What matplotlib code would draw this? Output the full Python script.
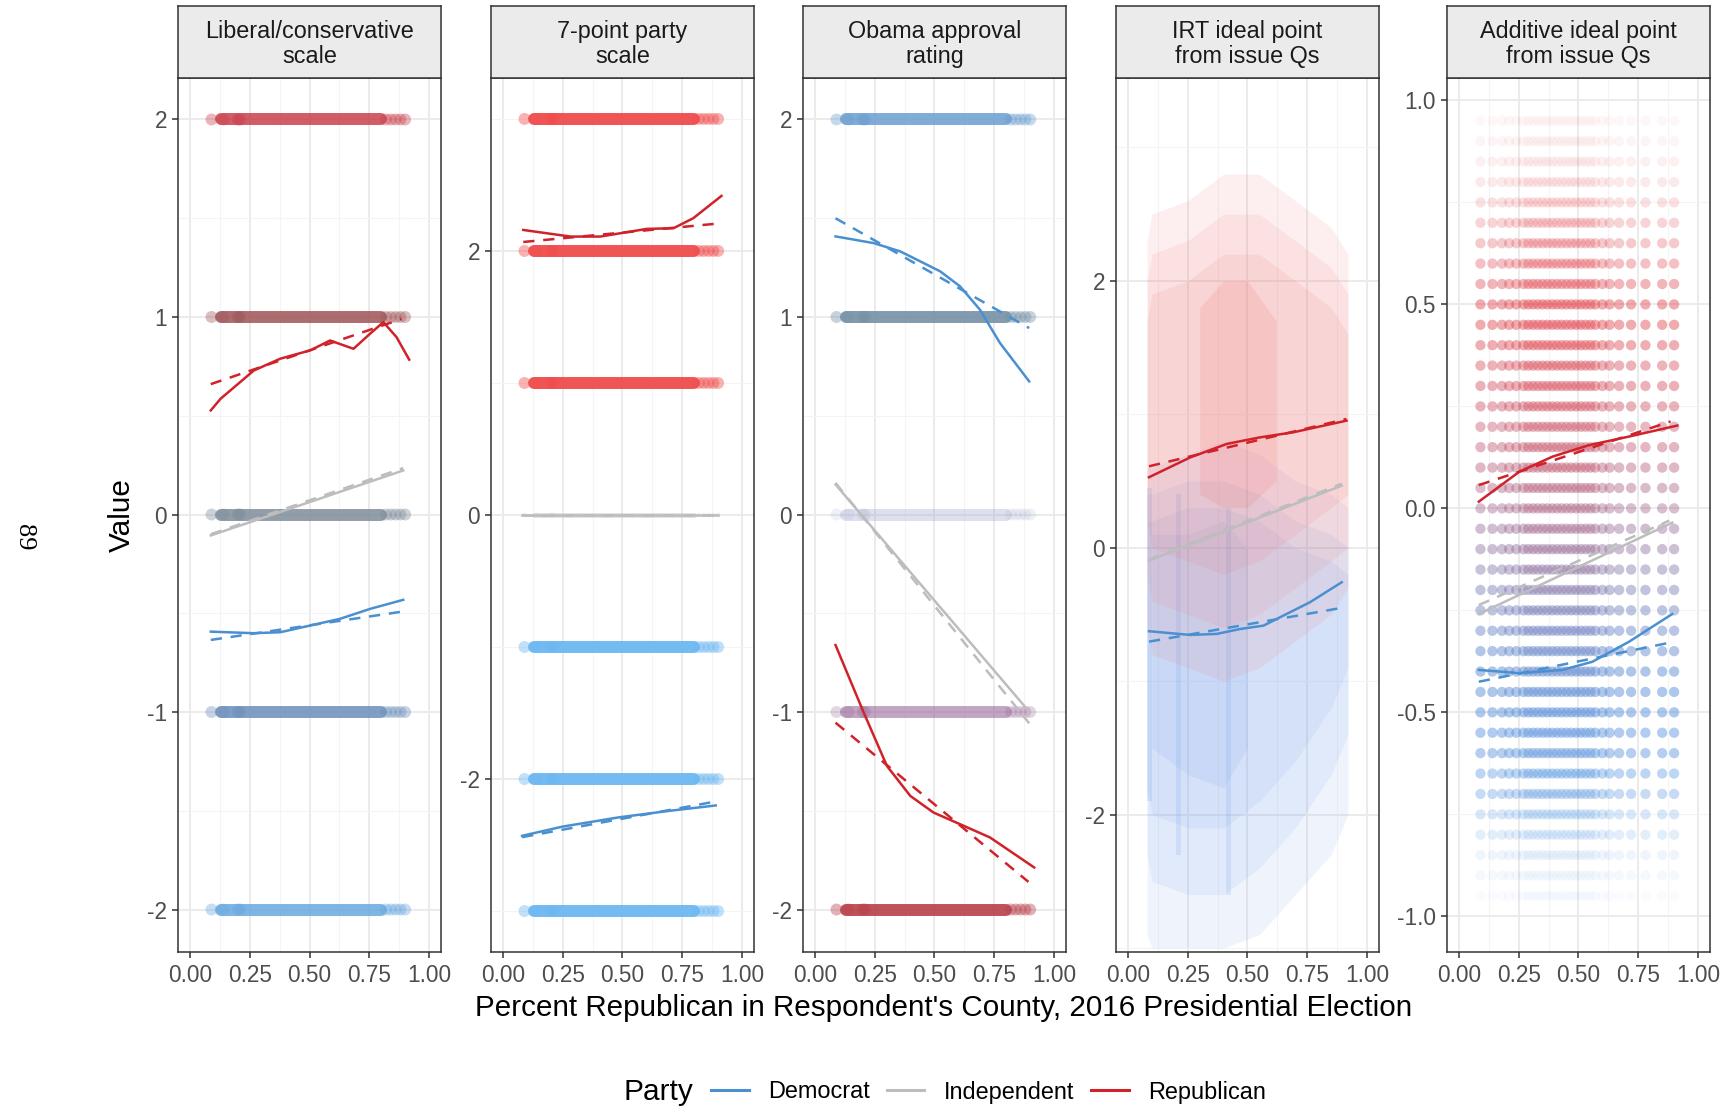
import matplotlib.pyplot as plt
from matplotlib.lines import Line2D

plt.rcParams['font.family'] = ['Liberation Sans', 'DejaVu Sans']
plt.rcParams['axes.unicode_minus'] = False

W, H = 1733, 1110

# ---- data -------------------------------------------------------------
party_names = ['Democrat', 'Independent', 'Republican']

panel_titles = ['Liberal/conservative\nscale', '7-point party\nscale',
                'Obama approval\nrating', 'IRT ideal point\nfrom issue Qs',
                'Additive ideal point\nfrom issue Qs']

# range of county Republican share covered by most respondents,
# plus the thinly populated counties at either end
band_span = [0.13, 0.80]
edge_x = [0.09, 0.14, 0.20, 0.21, 0.82, 0.84, 0.86, 0.88, 0.90]

libcon_levels = [2, 1, 0, -1, -2]
pid7_levels = [3, 2, 1, 0, -1, -2, -3]
pid7_party = ['Republican', 'Republican', 'Republican', 'Independent',
              'Democrat', 'Democrat', 'Democrat']
obama_levels = [2, 1, 0, -1, -2]

# additive ideal point: response levels and density of each party on them
add_x = [0.09, 0.14, 0.18, 0.21, 0.24, 0.27, 0.29, 0.31, 0.33, 0.35, 0.37,
         0.39, 0.41, 0.43, 0.45, 0.47, 0.49, 0.51, 0.53, 0.55, 0.57, 0.60,
         0.63, 0.67, 0.72, 0.78, 0.85, 0.90]
add_levels = [0.95, 0.90, 0.85, 0.80, 0.75, 0.70, 0.65, 0.60, 0.55, 0.50,
              0.45, 0.40, 0.35, 0.30, 0.25, 0.20, 0.15, 0.10, 0.05, 0.00,
              -0.05, -0.10, -0.15, -0.20, -0.25, -0.30, -0.35, -0.40, -0.45,
              -0.50, -0.55, -0.60, -0.65, -0.70, -0.75, -0.80, -0.85, -0.90,
              -0.95]
add_rep_density = [0.04, 0.05, 0.07, 0.10, 0.15, 0.20, 0.25, 0.30, 0.35, 0.40,
                   0.40, 0.38, 0.35, 0.35, 0.33, 0.30, 0.30, 0.28, 0.25, 0.22,
                   0.20, 0.18, 0.15, 0.13, 0.10, 0.08, 0.06, 0.05, 0.04, 0.03,
                   0.02, 0.02, 0.01, 0.01, 0.00, 0.00, 0.00, 0.00, 0.00]
add_dem_density = [0.00, 0.00, 0.00, 0.00, 0.00, 0.01, 0.02, 0.02, 0.03, 0.03,
                   0.04, 0.05, 0.07, 0.08, 0.10, 0.12, 0.14, 0.17, 0.20, 0.22,
                   0.25, 0.28, 0.30, 0.33, 0.36, 0.38, 0.40, 0.42, 0.42, 0.42,
                   0.40, 0.38, 0.33, 0.28, 0.20, 0.14, 0.08, 0.05, 0.03]

# IRT ideal point cloud: nested spread of each party by county share
irt_x = [0.08, 0.10, 0.25, 0.40, 0.55, 0.70, 0.85, 0.92]
irt_rep_lo = [[-0.6, -0.8, -0.9, -1.0, -0.9, -0.7, -0.5, -0.3],
              [-0.2, -0.4, -0.5, -0.6, -0.5, -0.3, -0.1, 0.0],
              [0.2, 0.0, -0.1, -0.2, -0.1, 0.1, 0.3, 0.4]]
irt_rep_hi = [[2.3, 2.5, 2.6, 2.8, 2.8, 2.6, 2.4, 2.2],
              [2.0, 2.2, 2.3, 2.5, 2.5, 2.3, 2.1, 1.9],
              [1.7, 1.9, 2.0, 2.2, 2.2, 2.0, 1.8, 1.6]]
irt_rep_core_x = [0.30, 0.40, 0.50, 0.62]
irt_rep_core_lo = [0.4, 0.3, 0.3, 0.5]
irt_rep_core_hi = [1.8, 2.0, 2.0, 1.7]
irt_dem_lo = [[-2.9, -3.0, -3.0, -3.0, -2.9, -2.6, -2.3, -2.0],
              [-2.3, -2.5, -2.6, -2.6, -2.4, -2.1, -1.7, -1.4],
              [-1.8, -2.0, -2.1, -2.1, -1.9, -1.6, -1.2, -0.9]]
irt_dem_hi = [[0.6, 0.6, 0.7, 0.8, 0.7, 0.5, 0.4, 0.3],
              [0.4, 0.4, 0.5, 0.5, 0.4, 0.2, 0.1, 0.0],
              [0.2, 0.2, 0.3, 0.3, 0.2, 0.0, -0.1, -0.2]]
irt_dem_core_x = [0.10, 0.25, 0.40, 0.50]
irt_dem_core_lo = [-1.5, -1.7, -1.8, -1.5]
irt_dem_core_hi = [0.1, 0.1, 0.2, 0.0]
# counties with many respondents (vertical streaks)
irt_streak_x = [0.09, 0.21, 0.42]
irt_streak_lo = [-1.9, -2.3, -2.6]
irt_streak_hi = [0.45, 0.4, 0.3]

# loess fits (solid) per panel and party
loess = [
    {'Democrat': ([0.087, 0.267, 0.378, 0.503, 0.628, 0.753, 0.892],
                  [-0.593, -0.601, -0.596, -0.562, -0.528, -0.478, -0.432]),
     'Independent': ([0.087, 0.892], [-0.106, 0.223]),
     'Republican': ([0.087, 0.128, 0.267, 0.378, 0.503, 0.586, 0.684, 0.753,
                     0.809, 0.864, 0.917],
                    [0.527, 0.586, 0.729, 0.789, 0.831, 0.881, 0.839, 0.915,
                     0.974, 0.898, 0.784])},
    {'Democrat': ([0.08, 0.25, 0.485, 0.70, 0.89],
                  [-2.43, -2.36, -2.29, -2.24, -2.20]),
     'Independent': ([0.08, 0.90], [0.0, 0.0]),
     'Republican': ([0.085, 0.282, 0.407, 0.601, 0.713, 0.796, 0.914],
                    [2.159, 2.109, 2.109, 2.167, 2.172, 2.248, 2.417])},
    {'Democrat': ([0.086, 0.246, 0.357, 0.524, 0.607, 0.69, 0.774, 0.896],
                  [1.408, 1.374, 1.332, 1.231, 1.155, 1.037, 0.868, 0.674]),
     'Independent': ([0.086, 0.896], [0.152, -0.998]),
     'Republican': ([0.086, 0.204, 0.301, 0.399, 0.496, 0.607, 0.732, 0.917],
                    [-0.661, -1.003, -1.273, -1.425, -1.509, -1.568, -1.635,
                     -1.787])},
    {'Democrat': ([0.088, 0.261, 0.372, 0.47, 0.567, 0.65, 0.761, 0.894],
                  [-0.626, -0.654, -0.646, -0.609, -0.584, -0.509, -0.409,
                   -0.259]),
     'Independent': ([0.088, 0.894], [-0.097, 0.465]),
     'Republican': ([0.088, 0.261, 0.414, 0.553, 0.692, 0.914],
                    [0.528, 0.677, 0.778, 0.827, 0.865, 0.952])},
    {'Democrat': ([0.083, 0.253, 0.433, 0.558, 0.711, 0.892],
                  [-0.396, -0.404, -0.396, -0.376, -0.327, -0.259]),
     'Independent': ([0.083, 0.892], [-0.259, -0.035]),
     'Republican': ([0.083, 0.253, 0.392, 0.544, 0.711, 0.913],
                    [0.0165, 0.09, 0.127, 0.155, 0.176, 0.203])},
]

# linear fits (dashed): endpoints per panel and party
linear = [
    {'Democrat': ([0.087, 0.892], [-0.635, -0.491]),
     'Independent': ([0.087, 0.892], [-0.10, 0.235]),
     'Republican': ([0.087, 0.885], [0.66, 0.99])},
    {'Democrat': ([0.08, 0.89], [-2.44, -2.17]),
     'Independent': ([0.08, 0.90], [0.0, 0.0]),
     'Republican': ([0.085, 0.914], [2.068, 2.21])},
    {'Democrat': ([0.086, 0.896], [1.50, 0.944]),
     'Independent': ([0.086, 0.896], [0.16, -1.057]),
     'Republican': ([0.086, 0.893], [-1.054, -1.86])},
    {'Democrat': ([0.088, 0.894], [-0.704, -0.451]),
     'Independent': ([0.088, 0.894], [-0.09, 0.48]),
     'Republican': ([0.088, 0.914], [0.61, 0.965])},
    {'Democrat': ([0.083, 0.892], [-0.425, -0.328]),
     'Independent': ([0.083, 0.88], [-0.237, -0.03]),
     'Republican': ([0.083, 0.885], [0.057, 0.213])},
]

# ---- styling ----------------------------------------------------------
line_colors = {'Democrat': '#4a90d0', 'Independent': '#bdbdbd',
               'Republican': '#d0222a'}
point_colors = {'Democrat': '#6cb8f2', 'Independent': '#cdcdcd',
                'Republican': '#f04c4c'}
libcon_colors = ['#c9404c', '#9f5457', '#7e8c9a', '#6b8eba', '#68a8e0']
obama_colors = ['#6a9ed0', '#7590a5', '#a0a8cc', '#9a6a9a', '#b8404a']
obama_alpha = [0.85, 0.9, 0.35, 0.6, 0.9]

ylims = [(-2.215, 2.21), (-3.31, 3.31), (-2.215, 2.21), (-3.03, 3.52),
         (-1.0875, 1.055)]
yticks = [[-2, -1, 0, 1, 2], [-2, 0, 2], [-2, -1, 0, 1, 2], [-2, 0, 2],
          [-1.0, -0.5, 0.0, 0.5, 1.0]]
yminor = [[-1.5, -0.5, 0.5, 1.5], [-3, -1, 1, 3], [-1.5, -0.5, 0.5, 1.5],
          [-3, -1, 1, 3], [-0.75, -0.25, 0.25, 0.75]]
ylabels = [['-2', '-1', '0', '1', '2'], ['-2', '0', '2'],
           ['-2', '-1', '0', '1', '2'], ['-2', '0', '2'],
           ['-1.0', '-0.5', '0.0', '0.5', '1.0']]

panel_left = [178, 491, 803, 1116, 1447]
panel_w = 263
panel_top, panel_bottom = 78, 952
strip_top = 6

fig = plt.figure(figsize=(W / 100, H / 100), dpi=100)

axes = []
for i in range(5):
    ax = fig.add_axes([panel_left[i] / W, 1 - panel_bottom / H, panel_w / W,
                       (panel_bottom - panel_top) / H])
    axes.append(ax)
    ax.set_xlim(-0.05, 1.05)
    ax.set_ylim(*ylims[i])
    ax.set_xticks([0, 0.25, 0.5, 0.75, 1.0])
    ax.set_xticklabels(['0.00', '0.25', '0.50', '0.75', '1.00'])
    ax.set_xticks([0.125, 0.375, 0.625, 0.875], minor=True)
    ax.set_yticks(yticks[i])
    ax.set_yticklabels(ylabels[i])
    ax.set_yticks(yminor[i], minor=True)
    ax.grid(which='major', color='#ebebeb', lw=1.4, zorder=0)
    ax.grid(which='minor', color='#f4f4f4', lw=0.8, zorder=0)
    ax.set_axisbelow(True)
    ax.tick_params(which='major', length=4, width=1.1, color='#333333',
                   labelsize=16.3, labelcolor='#4d4d4d', pad=4)
    ax.tick_params(axis='x', which='major', pad=5)
    ax.tick_params(which='minor', length=0)
    for sp in ax.spines.values():
        sp.set_color('#333333')
        sp.set_linewidth(1.1)

    # facet strip
    sax = fig.add_axes([panel_left[i] / W, 1 - panel_top / H, panel_w / W,
                        (panel_top - strip_top) / H])
    sax.set_facecolor('#ebebeb')
    sax.set_xticks([])
    sax.set_yticks([])
    for sp in sax.spines.values():
        sp.set_color('#333333')
        sp.set_linewidth(1.1)
    sax.text(0.5, 0.47, panel_titles[i], ha='center', va='center',
             fontsize=16.8, color='#1a1a1a', linespacing=1.12,
             transform=sax.transAxes)


def draw_band(ax, level, color, alpha, width=8.6):
    # dense stretch of respondents as a thick stroke, sparse counties as dots
    ax.plot(band_span, [level, level], color=color, alpha=alpha, lw=width,
            solid_capstyle='round', zorder=2)
    ax.scatter(edge_x, [level] * len(edge_x), s=width ** 2, color=color,
               alpha=alpha * 0.45, edgecolors='none', zorder=2)


for lvl, c in zip(libcon_levels, libcon_colors):
    draw_band(axes[0], lvl, c, 0.85)

for lvl, party in zip(pid7_levels, pid7_party):
    if party == 'Independent':
        draw_band(axes[1], lvl, point_colors[party], 0.6, width=3.5)
    else:
        draw_band(axes[1], lvl, point_colors[party], 0.95)

for lvl, c, a in zip(obama_levels, obama_colors, obama_alpha):
    draw_band(axes[2], lvl, c, a)

# IRT ideal point clouds
ax = axes[3]
dem_cloud = '#7fa6ee'
rep_cloud = '#f06a6a'
for lo, hi in zip(irt_dem_lo, irt_dem_hi):
    ax.fill_between(irt_x, lo, hi, color=dem_cloud, alpha=0.12, lw=0, zorder=1)
ax.fill_between(irt_dem_core_x, irt_dem_core_lo, irt_dem_core_hi,
                color=dem_cloud, alpha=0.15, lw=0, zorder=1)
ax.bar(irt_streak_x, [h - l for l, h in zip(irt_streak_lo, irt_streak_hi)],
       bottom=irt_streak_lo, width=0.02, color=dem_cloud, alpha=0.2, lw=0,
       zorder=1)
for lo, hi in zip(irt_rep_lo, irt_rep_hi):
    ax.fill_between(irt_x, lo, hi, color=rep_cloud, alpha=0.1, lw=0, zorder=1)
ax.fill_between(irt_rep_core_x, irt_rep_core_lo, irt_rep_core_hi,
                color=rep_cloud, alpha=0.15, lw=0, zorder=1)

# additive ideal point rows
ax = axes[4]
for lvl, dd, dr in zip(add_levels, add_dem_density, add_rep_density):
    if dd > 0:
        ax.scatter(add_x, [lvl] * len(add_x), s=55, color='#5a9ee8',
                   alpha=min(dd * 1.2, 1), edgecolors='none', zorder=2)
    if dr > 0:
        ax.scatter(add_x, [lvl] * len(add_x), s=55, color='#e8464c',
                   alpha=min(dr * 1.1, 1), edgecolors='none', zorder=2)

# fitted lines
for i, ax in enumerate(axes):
    for party in party_names:
        lx, ly = linear[i][party]
        ax.plot(lx, ly, color=line_colors[party], lw=1.8, ls=(0, (4.5, 3.5)),
                zorder=3)
        sx, sy = loess[i][party]
        ax.plot(sx, sy, color=line_colors[party], lw=1.8, zorder=4)

# axis titles
fig.text(121.6 / W, 1 - 515 / H, 'Value', rotation=90, ha='center',
         va='center', fontsize=21.4, color='black')
fig.text(944 / W, 1 - 1008 / H,
         "Percent Republican in Respondent's County, 2016 Presidential Election",
         ha='center', va='center', fontsize=21.3, color='black')

# legend
fig.text(624 / W, 1 - 1092 / H, 'Party', ha='left', va='center', fontsize=21.4)
handles = [Line2D([], [], color=line_colors[p], lw=2.2) for p in party_names]
fig.legend(handles, party_names, loc='center left', ncol=3,
           bbox_to_anchor=(711 / W, 1 - 1092 / H), frameon=False, fontsize=16.9,
           handlelength=1.6, handletextpad=0.85, columnspacing=0.7,
           borderpad=0, borderaxespad=0)

# page number
fig.text(24 / W, 1 - 537 / H, '89', rotation=-90, ha='center', va='center',
         fontsize=19, family='Liberation Serif')

fig.savefig('out.png', dpi=100)
